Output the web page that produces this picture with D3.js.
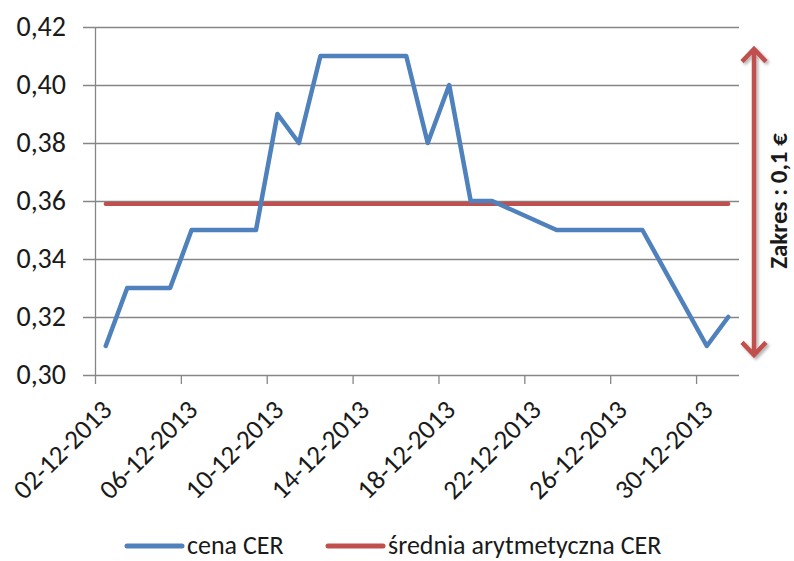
<!DOCTYPE html>
<html>
<head>
<meta charset="utf-8">
<script src="https://cdn.jsdelivr.net/npm/d3@7"></script>
<style>
  body { margin: 0; background: #fff; }
  svg { display: block; }
  text { font-family: Carlito, Calibri, "Liberation Sans", sans-serif; fill: #1a1a1a; }
</style>
</head>
<body>
<div id="chart"></div>
<script>
// Trading days and CER prices (EUR)
const dates = ["02-12-2013", "03-12-2013", "04-12-2013", "05-12-2013", "06-12-2013",
               "09-12-2013", "10-12-2013", "11-12-2013", "12-12-2013", "13-12-2013",
               "16-12-2013", "17-12-2013", "18-12-2013", "19-12-2013", "20-12-2013",
               "23-12-2013", "24-12-2013", "27-12-2013", "30-12-2013", "31-12-2013"];
const cenaCER = [0.31, 0.33, 0.33, 0.33, 0.35,
                 0.35, 0.39, 0.38, 0.41, 0.41,
                 0.41, 0.38, 0.40, 0.36, 0.36,
                 0.35, 0.35, 0.35, 0.31, 0.32];
const sredniaCER = 0.359;

const xTickLabels = ["02-12-2013", "06-12-2013", "10-12-2013", "14-12-2013",
                     "18-12-2013", "22-12-2013", "26-12-2013", "30-12-2013"];
const xAxisEnd = "01-01-2014";
const yTicks = [0.30, 0.32, 0.34, 0.36, 0.38, 0.40, 0.42];

const seriesNames = ["cena CER", "średnia arytmetyczna CER"];
const annotation = "Zakres : 0,1 €";

const blue = "#4f81bd";
const red = "#c0504d";
const gridColor = "#868686";

const W = 794, H = 561;
const margin = { top: 27, right: 55, bottom: 186, left: 95 };
const width = W - margin.left - margin.right;
const height = H - margin.top - margin.bottom;

const parseDate = d3.utcParse("%d-%m-%Y");
const halfDay = 12 * 3600 * 1000;
const pl = d3.formatLocale({ decimal: ",", thousands: " ", grouping: [3], currency: ["", "€"] });

const svg = d3.select("#chart").append("svg")
    .attr("width", W)
    .attr("height", H);

const defs = svg.append("defs");
defs.append("filter")
    .attr("id", "shadow")
    .attr("filterUnits", "userSpaceOnUse")
    .attr("x", 0).attr("y", 0).attr("width", W).attr("height", H)
    .append("feDropShadow")
    .attr("dx", 2).attr("dy", 2).attr("stdDeviation", 1.5)
    .attr("flood-color", "#000").attr("flood-opacity", 0.3);

const g = svg.append("g")
    .attr("transform", "translate(" + margin.left + "," + margin.top + ")");

// Scales
const x = d3.scaleUtc()
    .domain([parseDate(dates[0]), parseDate(xAxisEnd)])
    .range([0, width]);

const y = d3.scaleLinear()
    .domain([yTicks[0], yTicks[yTicks.length - 1]])
    .range([height, 0]);

// Gridlines (incl. outer tick marks)
g.append("g")
    .attr("transform", "translate(-12,0)")
    .call(d3.axisLeft(y).tickValues(yTicks).tickSize(-(width + 12)).tickFormat(""))
    .call(a => a.select(".domain").remove())
    .call(a => a.selectAll("line").attr("stroke", gridColor).attr("stroke-width", 1.3));

// Y axis line + labels
g.append("g")
    .call(d3.axisLeft(y).tickValues(yTicks).tickSize(0).tickPadding(29).tickFormat(pl.format(".2f")))
    .call(a => a.select(".domain").attr("stroke", gridColor).attr("stroke-width", 1.3))
    .call(a => a.selectAll("text").style("font-size", "28px").attr("fill", "#1a1a1a"));

// X axis ticks
const xTickDates = xTickLabels.map(parseDate);
g.append("g")
    .attr("transform", "translate(0," + height + ")")
    .call(d3.axisBottom(x).tickValues(xTickDates).tickSize(9).tickFormat(""))
    .call(a => a.select(".domain").remove())
    .call(a => a.selectAll("line").attr("stroke", gridColor).attr("stroke-width", 1.3));

// X axis labels (rotated, centred on the day)
g.append("g")
    .selectAll("text")
    .data(xTickLabels)
    .join("text")
    .attr("transform", d => "translate(" + (x(+parseDate(d) + halfDay) + 1) + "," + (height + 30) + ") rotate(-45)")
    .attr("text-anchor", "end")
    .attr("dy", "0.35em")
    .style("font-size", "27px")
    .text(d => d);

// Series
const data = dates.map((d, i) => ({ date: new Date(+parseDate(d) + halfDay), value: cenaCER[i] }));

const line = d3.line()
    .x(d => x(d.date))
    .y(d => y(d.value));

g.append("path")
    .datum([data[0], data[data.length - 1]].map(d => ({ date: d.date, value: sredniaCER })))
    .attr("fill", "none")
    .attr("stroke", red)
    .attr("stroke-width", 4.2)
    .attr("stroke-linecap", "round")
    .attr("d", line);

g.append("path")
    .datum(data)
    .attr("fill", "none")
    .attr("stroke", blue)
    .attr("stroke-width", 4.5)
    .attr("stroke-linejoin", "round")
    .attr("stroke-linecap", "round")
    .attr("d", line);

// Range annotation arrow (min..max of price)
const arrowX = width + 15;
const minV = d3.min(cenaCER), maxV = d3.max(cenaCER);
const yTop = y(maxV) - 7, yBot = y(minV) + 9;
const head = 12;
g.append("path")
    .attr("d", [
        "M" + arrowX + "," + (yTop + 1) + "V" + (yBot - 1),
        "M" + (arrowX - head) + "," + (yTop + head * 1.05) + "L" + arrowX + "," + yTop + "L" + (arrowX + head) + "," + (yTop + head * 1.05),
        "M" + (arrowX - head) + "," + (yBot - head * 1.05) + "L" + arrowX + "," + yBot + "L" + (arrowX + head) + "," + (yBot - head * 1.05)
    ].join(""))
    .attr("fill", "none")
    .attr("stroke", red)
    .attr("stroke-width", 4.5)
    .attr("stroke-linejoin", "miter")
    .attr("stroke-linecap", "butt")
    .attr("filter", "url(#shadow)");

g.append("text")
    .attr("transform", "translate(" + (arrowX + 40) + "," + ((y(maxV) + y(minV)) / 2) + ") rotate(-90)")
    .attr("text-anchor", "middle")
    .attr("dy", "-0.3em")
    .style("font-size", "25px")
    .style("font-weight", "bold")
    .attr("fill", "#000")
    .text(annotation);

// Legend
const legendY = 545;
const legendItems = [
    { name: seriesNames[0], color: blue, x: 127 },
    { name: seriesNames[1], color: red, x: 328 }
];
const legend = svg.append("g");
legendItems.forEach(item => {
    legend.append("line")
        .attr("x1", item.x).attr("x2", item.x + 55)
        .attr("y1", legendY + 1).attr("y2", legendY + 1)
        .attr("stroke", item.color)
        .attr("stroke-width", 5)
        .attr("stroke-linecap", "round");
    legend.append("text")
        .attr("x", item.x + 60)
        .attr("y", legendY)
        .attr("dy", "0.35em")
        .style("font-size", "26px")
        .text(item.name);
});
</script>
</body>
</html>
